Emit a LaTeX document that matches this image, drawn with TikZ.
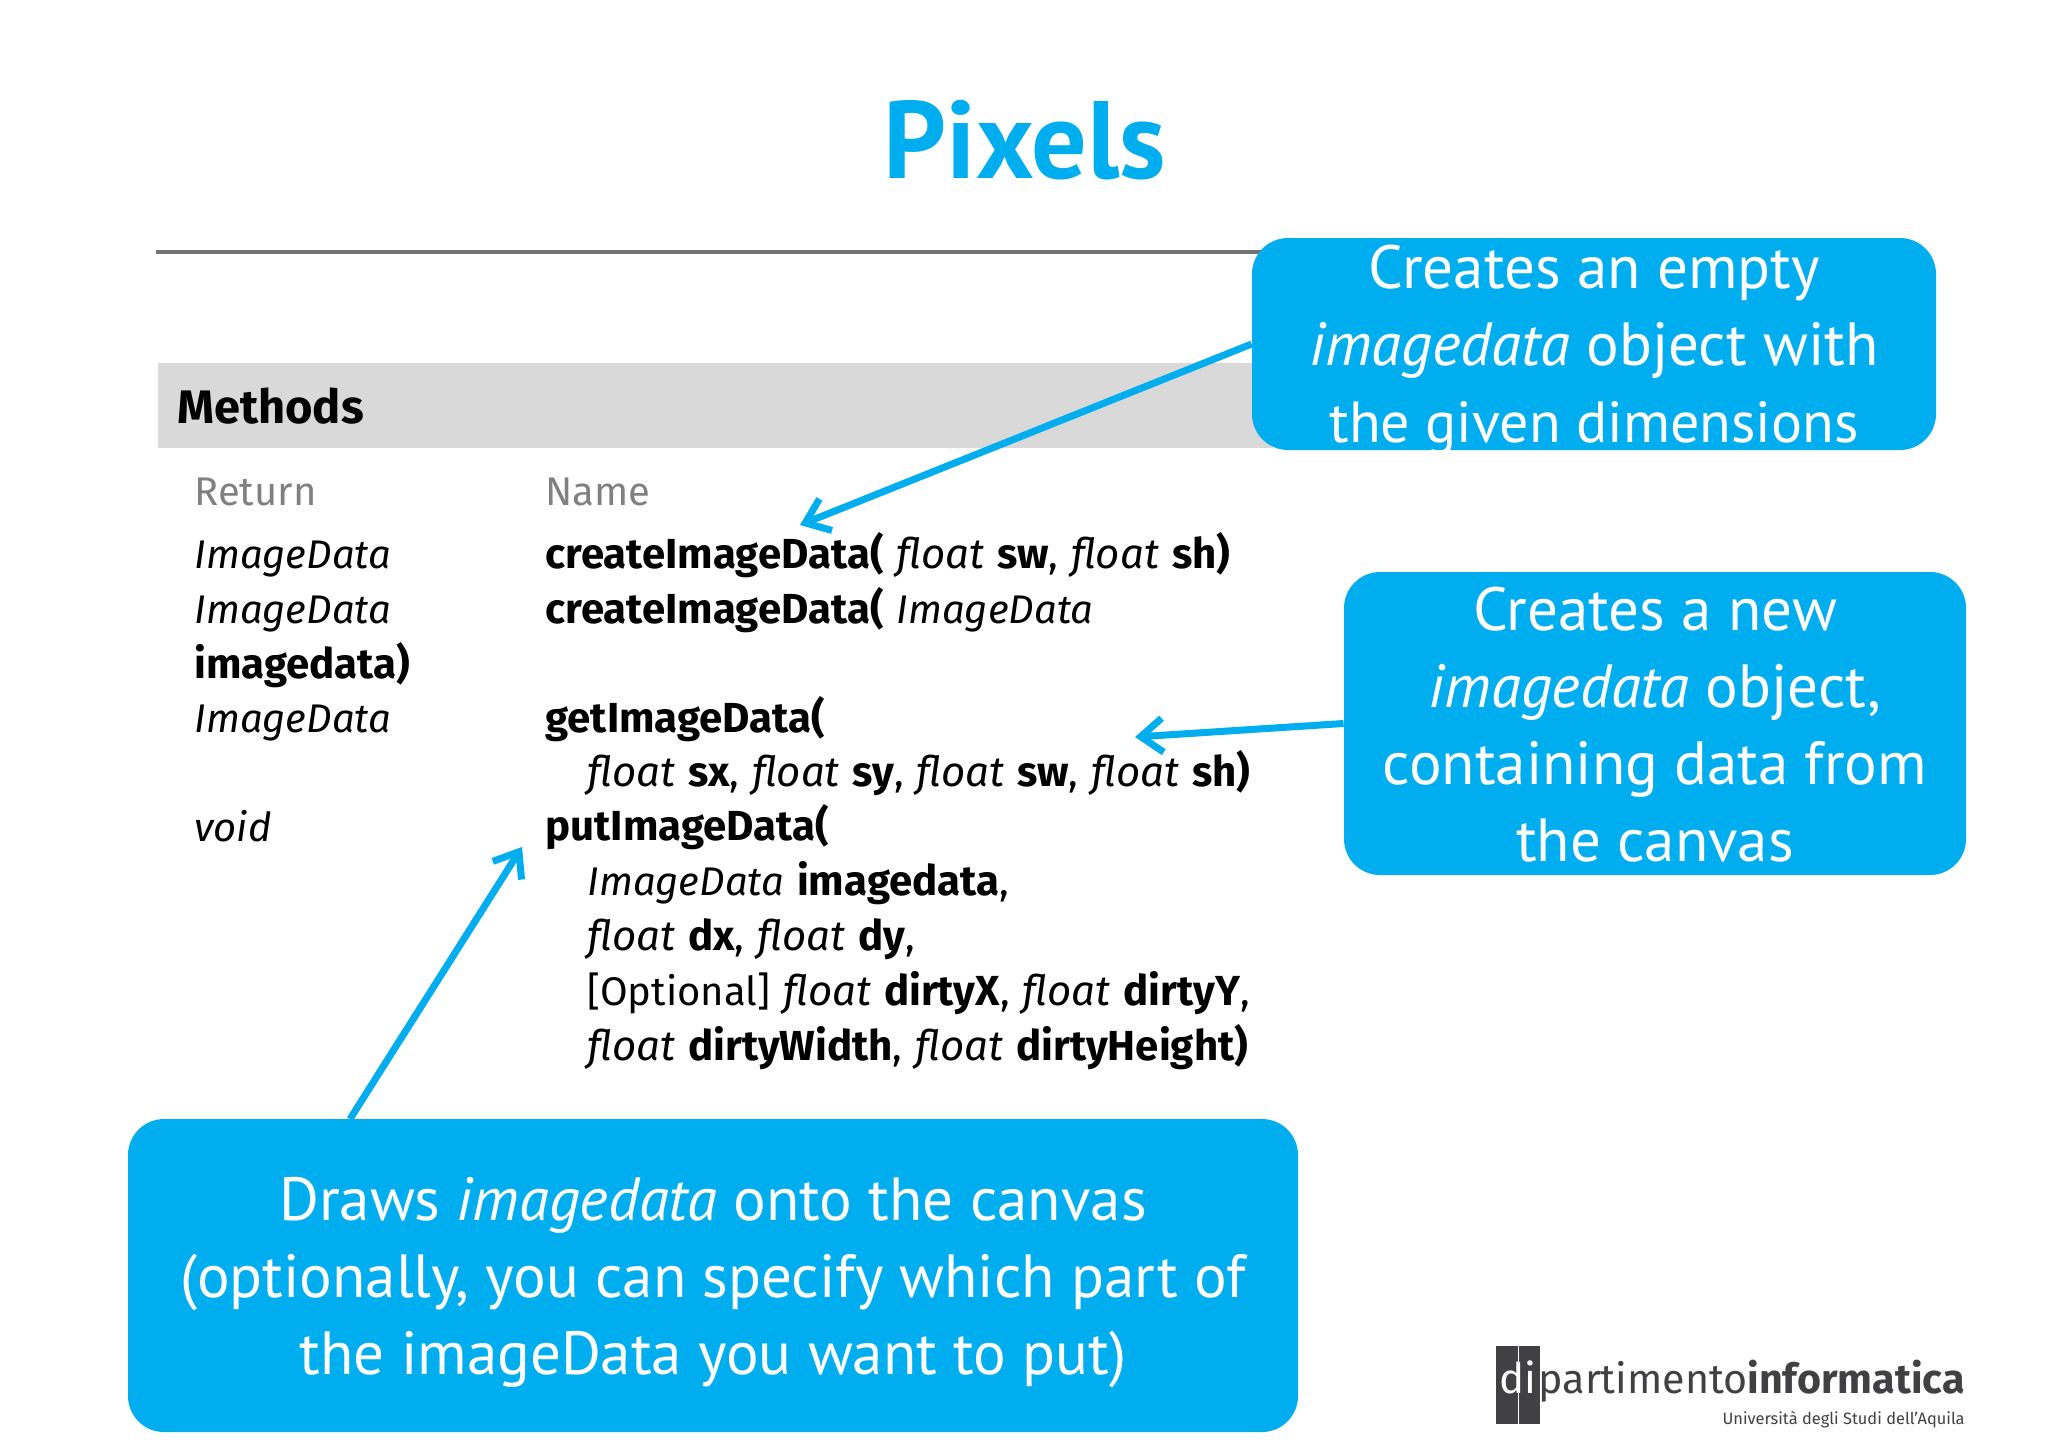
\documentclass[tikz,border=0pt]{standalone}
\usepackage{fontspec}
\setmainfont{Fira Sans}
\newfontfamily\callfont{PT Sans}
\usetikzlibrary{positioning,arrows.meta}
\definecolor{callblue}{HTML}{00AEEF}
\definecolor{logogray}{HTML}{414042}
\newcommand{\bd}[1]{{\fontsize{21}{24}\selectfont\bfseries #1}}
\newcommand{\fl}{{\fontsize{21}{24}\selectfont\itshape float}}
\newcommand{\rowfont}{\fontsize{20}{24}\selectfont\spaceskip 6.5pt\relax}
\tikzset{x=0.5pt, y=-0.5pt}
\tikzset{callout/.style={fill=callblue,rounded corners=18pt,inner sep=0pt}}
\tikzset{calltext/.style={inner sep=0pt,align=center,text=white,font=\callfont\fontsize{30.5}{38.5}\selectfont}}
\tikzset{row/.style={inner sep=0pt,text height=14pt,text depth=5pt,font=\rowfont}}
\tikzstyle{callarrow}=[draw=callblue,line width=3.5pt,-{Straight Barb[length=11pt,width=17pt,line width=3.5pt]}]
\begin{document}
\begin{tikzpicture}
        \useasboundingbox (0,0) rectangle (2048,1447);
        \node (title) at (1025,140) [inner sep=0pt,text=callblue,font=\callfont\bfseries\fontsize{55}{60}\selectfont] {Pixels};
        \draw[draw=black!55,line width=2pt] (156,252) coordinate (rulestart) -- (1262,252) coordinate (ruleend);
        \node (bar) at (158,405.5) [anchor=west,fill=black!15,minimum width=1115*0.5pt,minimum height=42.5pt,inner sep=0pt] {};
        \node (methods) at (177,406) [anchor=west,inner sep=0pt,font=\bfseries\fontsize{23.5}{24}\selectfont] {Methods};
        % return column
        \node (ret0) at (194,496) [row,anchor=west,text=black!50] {Return};
        \node (ret1) [row,below right= 12.3pt and 0pt of ret0.south west] {\textit{ImageData}};
        \node (ret2) [row,below right= 8pt and 0pt of ret1.south west] {\textit{ImageData}};
        \node (ret3) [row,below right= 8pt and 0pt of ret2.south west] {\bd{imagedata)}};
        \node (ret4) [row,below right= 8pt and 0pt of ret3.south west] {\textit{ImageData}};
        \node (ret6) [row,below right= 35pt and 0pt of ret4.south west] {\textit{void}};
        % name column
        \node (name0) at (545,496) [row,anchor=west,text=black!50] {Name};
        \node (name1) [row,below right= 12.3pt and 0pt of name0.south west] {\bd{createImageData(} \fl{} \bd{sw}, \fl{} \bd{sh)}};
        \node (name2) [row,below right= 8pt and 0pt of name1.south west] {\bd{createImageData(} \textit{ImageData}};
        \node (name4) [row,below right= 35pt and 0pt of name2.south west] {\bd{getImageData(}};
        \node (name5) [row,below right= 8pt and 21pt of name4.south west] {\fl{} \bd{sx}, \fl{} \bd{sy}, \fl{} \bd{sw}, \fl{} \bd{sh)}};
        \node (name6) [row,below right= 35pt and 0pt of name4.south west] {\bd{putImageData(}};
        \node (name7) [row,below right= 8pt and 21pt of name6.south west] {\textit{ImageData} \bd{imagedata},};
        \node (name8) [row,below right= 8pt and 0pt of name7.south west] {\fl{} \bd{dx}, \fl{} \bd{dy},};
        \node (name9) [row,below right= 8pt and 0pt of name8.south west] {[Optional] \fl{} \bd{dirtyX}, \fl{} \bd{dirtyY},};
        \node (name10) [row,below right= 8pt and 0pt of name9.south west] {\fl{} \bd{dirtyWidth}, \fl{} \bd{dirtyHeight)}};
        % callouts
        \node (emptybox) at (1594,344) [callout,minimum width=342pt,minimum height=106pt] {};
        \node (emptytext) at (1594,350) [calltext] {Creates an empty\\\textit{imagedata} object with\\{\fontsize{29}{38.5}\selectfont the given dimensions}};
        \node (newbox) at (1655,723.5) [callout,minimum width=311pt,minimum height=151.5pt] {};
        \node (newtext) at (1655,725) [calltext] {Creates a new\\\textit{imagedata} object,\\containing data from\\the canvas};
        \node (drawbox) at (713,1275.5) [callout,minimum width=585pt,minimum height=156.5pt] {};
        \node (drawtext) at (713,1283) [calltext] {Draws \textit{imagedata} onto the canvas\\(optionally, you can specify which part of\\the imageData you want to put)};
        \coordinate (emptytip) at (800,525);
        \coordinate (newtip) at (1135,737);
        \coordinate (drawtip) at (522,847);
        \coordinate (drawfoot) at (350,1119);
        \draw[callarrow] (emptybox.west) -- (emptytip);
        \draw[callarrow] (newbox.west) -- (newtip);
        \draw[callarrow] (drawfoot) -- (drawtip);
        % logo
        \node (logobox) at (1496,1346) [anchor=north west,fill=logogray,minimum width=22pt,minimum height=39pt,inner sep=0pt] {};
        \draw[draw=white,line width=0.5pt] (logobox.north) -- (logobox.south);
        \node (logodi) at (1518,1393) [anchor=base,inner sep=0pt,text=white,font=\fontsize{21}{24}\selectfont] {di};
        \node (logotext) at (1965,1393) [anchor=base east,inner sep=0pt,text=logogray,font=\fontsize{20.6}{24}\selectfont] {partimento\textbf{informatica}};
        \node (logouni) at (1965,1424.5) [anchor=base east,inner sep=0pt,text=logogray,font=\fontsize{8.2}{12}\selectfont] {Università degli Studi dell'Aquila};
\end{tikzpicture}
\end{document}
